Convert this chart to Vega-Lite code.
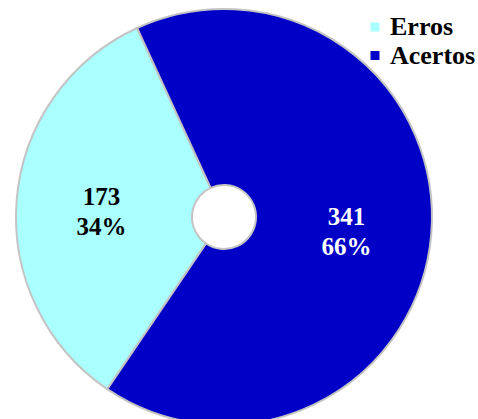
{
  "$schema": "https://vega.github.io/schema/vega-lite/v6.json",
  "width": 448,
  "height": 434,
  "padding": {"left": 0, "top": 0, "right": 30, "bottom": 0},
  "autosize": {"type": "none"},
  "background": "white",
  "config": {"view": {"stroke": null}},
  "data": {
    "values": [
      {"categoria": "Erros", "valor": 173},
      {"categoria": "Acertos", "valor": 341}
    ]
  },
  "transform": [
    {"joinaggregate": [{"op": "sum", "field": "valor", "as": "total"}]},
    {"calculate": "datum.valor / datum.total", "as": "pct"}
  ],
  "encoding": {
    "theta": {
      "field": "valor",
      "type": "quantitative",
      "stack": true,
      "scale": {"range": [-0.4311, 5.8521]}
    },
    "order": {"field": "categoria", "sort": "ascending"}
  },
  "layer": [
    {
      "mark": {
        "type": "arc",
        "outerRadius": 208,
        "innerRadius": 32,
        "stroke": "#c4c4c4",
        "strokeWidth": 2
      },
      "encoding": {
        "color": {
          "field": "categoria",
          "type": "nominal",
          "scale": {"domain": ["Erros", "Acertos"], "range": ["#aaffff", "#0000c6"]},
          "legend": {
            "title": null,
            "orient": "none",
            "legendX": 362,
            "legendY": 14,
            "padding": 0,
            "symbolType": "square",
            "symbolSize": 81,
            "symbolStrokeWidth": 0,
            "labelFont": "Liberation Serif",
            "labelFontSize": 26,
            "labelFontWeight": "bold",
            "labelColor": "black",
            "labelOffset": 2,
            "labelLimit": 200,
            "rowPadding": 2.5
          }
        }
      }
    },
    {
      "mark": {
        "type": "text",
        "radius": 123,
        "dy": -2,
        "baseline": "alphabetic",
        "font": "Liberation Serif",
        "fontSize": 25,
        "fontWeight": "bold"
      },
      "encoding": {
        "text": {"field": "valor", "type": "quantitative", "format": "d"},
        "color": {
          "condition": {"test": "datum.categoria === 'Acertos'", "value": "white"},
          "value": "black"
        }
      }
    },
    {
      "mark": {
        "type": "text",
        "radius": 123,
        "dy": 28,
        "baseline": "alphabetic",
        "font": "Liberation Serif",
        "fontSize": 25,
        "fontWeight": "bold"
      },
      "encoding": {
        "text": {"field": "pct", "type": "quantitative", "format": ".0%"},
        "color": {
          "condition": {"test": "datum.categoria === 'Acertos'", "value": "white"},
          "value": "black"
        }
      }
    }
  ]
}
